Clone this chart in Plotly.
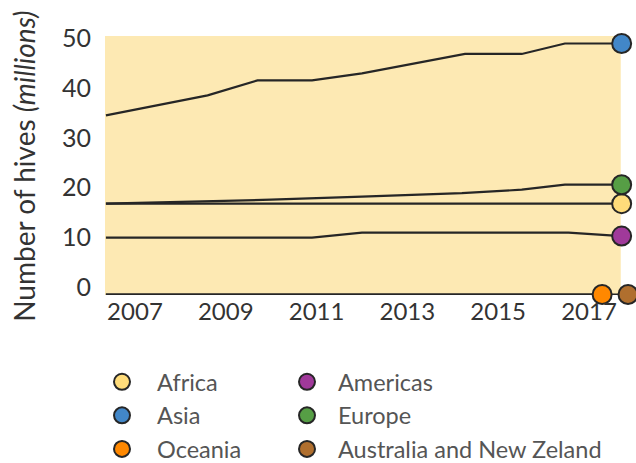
import plotly.graph_objects as go

# ---- data ----
regions = ["Africa", "Americas", "Asia", "Europe", "Oceania", "Australia and New Zeland"]
colors = ["#FFDC7A", "#A0399A", "#4287C8", "#569E45", "#FF8800", "#B06F2E"]

asia_years = [2006.36, 2008.6, 2009.7, 2010.9, 2012.0, 2014.27, 2015.52, 2016.47, 2017.72]
asia_vals = [35.9, 39.9, 42.9, 42.9, 44.3, 48.2, 48.2, 50.3, 50.3]

europe_years = [2006.36, 2010.0, 2012.0, 2014.2, 2015.52, 2016.47, 2017.72]
europe_vals = [18.2, 19.0, 19.6, 20.3, 21.0, 22.0, 22.0]

africa_years = [2006.36, 2017.72]
africa_vals = [18.2, 18.2]

americas_years = [2006.36, 2010.9, 2012.0, 2016.55, 2017.72]
americas_vals = [11.4, 11.4, 12.4, 12.4, 11.7]

oceania_years = [2006.36, 2017.29]
oceania_vals = [0, 0]

anz_years = [2006.36, 2017.86]
anz_vals = [0, 0]

series_years = [africa_years, americas_years, asia_years, europe_years, oceania_years, anz_years]
series_vals = [africa_vals, americas_vals, asia_vals, europe_vals, oceania_vals, anz_vals]
legend_of = ["legend", "legend2", "legend", "legend2", "legend", "legend2"]

tick_years = [2007, 2009, 2011, 2013, 2015, 2017]
tick_vals = [0, 10, 20, 30, 40, 50]

y_title = "Number of hives <i>(millions)</i>"

# shaded period of the chart background
shade_start, shade_end = 2006.34, 2017.70

FONT = "Lato"
LINE = "#262626"

fig = go.Figure()

fig.add_shape(type="rect", xref="x", yref="paper", x0=shade_start, x1=shade_end,
              y0=0, y1=1, fillcolor="#FDE9B3", line=dict(width=0), layer="below")

# lines
for name, xs, ys in zip(regions, series_years, series_vals):
    fig.add_trace(go.Scatter(
        x=xs, y=ys, mode="lines", line=dict(color=LINE, width=2.2),
        showlegend=False, hoverinfo="skip", cliponaxis=False))

# end markers (also legend entries)
order = [0, 2, 4, 1, 3, 5]
for i in order:
    fig.add_trace(go.Scatter(
        x=[series_years[i][-1]], y=[series_vals[i][-1]], mode="markers",
        name=regions[i], legend=legend_of[i],
        marker=dict(size=19, color=colors[i], line=dict(color=LINE, width=2)),
        cliponaxis=False))

legend_common = dict(
    xref="container", yref="container", xanchor="left", yanchor="top",
    bgcolor="rgba(0,0,0,0)", tracegroupgap=0,
    font=dict(family=FONT, size=23.5, color="#555555"),
)
fig.update_layout(
    width=636, height=463,
    margin=dict(l=105, r=0, t=36, b=168, autoexpand=False),
    paper_bgcolor="white",
    plot_bgcolor="white",
    font=dict(family=FONT, color="#333333"),
    legend=dict(x=87 / 636, y=1 - 360 / 463, itemwidth=60, **legend_common),
    legend2=dict(x=276 / 636, y=1 - 360 / 463, itemwidth=52, **legend_common),
    xaxis=dict(
        range=[shade_start, 2018.036], tickmode="array", tickvals=tick_years,
        ticktext=[str(t) for t in tick_years], showgrid=False, zeroline=False,
        showline=False, ticks="", tickfont=dict(size=24, color="#333333"),
        automargin=False,
    ),
    yaxis=dict(
        range=[-0.1, 51.8], tickmode="array", tickvals=tick_vals,
        showgrid=False, zeroline=False, showline=False,
        ticks="outside", ticklen=8, tickcolor="rgba(0,0,0,0)",
        ticklabelshift=-7, automargin=False,
        tickfont=dict(size=25, color="#333333"),
    ),
    annotations=[dict(
        text=y_title, xref="paper", yref="paper", x=-81 / 531, y=0.495,
        xanchor="center", yanchor="middle", textangle=-90, showarrow=False,
        font=dict(family=FONT, size=28, color="#333333"),
    )],
)

fig.write_html("out.html", config={"displayModeBar": False},
               post_script="document.body.style.margin='0';")
